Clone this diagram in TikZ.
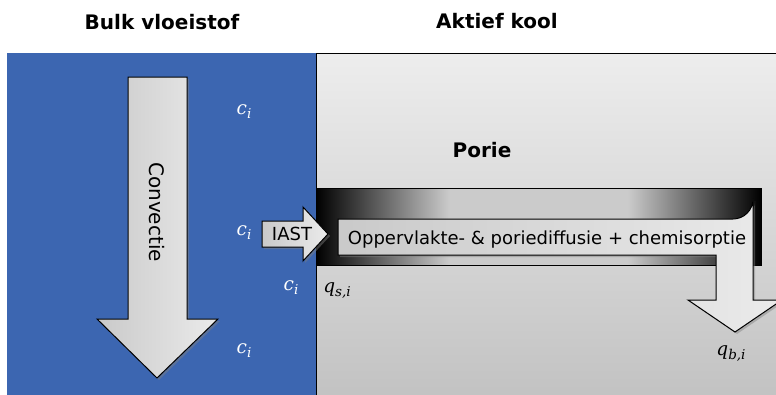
\documentclass[tikz,border=0pt]{standalone}
\usepackage{fontspec}
\setmainfont{DejaVu Sans}
\newfontfamily\varfont{DejaVu Serif}
\usetikzlibrary{shadows}
\definecolor{bulkblue}{HTML}{3C66B1}
\definecolor{poregray}{HTML}{CBCBCB}
\pgfdeclarehorizontalshading{poreshade}{100bp}{color(0bp)=(black); color(25bp)=(black); color(40bp)=(poregray); color(60bp)=(poregray); color(75bp)=(black); color(100bp)=(black)}
\newcommand{\symb}[2]{{\varfont\itshape #1\raisebox{-4pt}{\fontsize{13.5}{15}\selectfont #2}}}
\tikzset{
  title/.style={font=\bfseries\fontsize{20}{24}\selectfont, inner sep=0pt},
  lbl/.style={font=\fontsize{18}{22}\selectfont, inner sep=0pt},
  conc/.style={text=white, font=\fontsize{18.5}{22}\selectfont, inner sep=0pt},
  load/.style={text=black, font=\fontsize{18.5}{22}\selectfont, inner sep=0pt},
  arrowshape/.style={draw=black, line width=1pt, line join=miter, left color=gray!42, right color=gray!16,
    drop shadow={opacity=0.45, shadow xshift=2pt, shadow yshift=-2pt}},
}
\begin{document}
\begin{tikzpicture}[x=1pt, y=-1pt]
\useasboundingbox (0,0) rectangle (776,394);
\clip (0,0) rectangle (776,394);
% regions
\fill[bulkblue] (7,53) rectangle (318,400);
\shade[top color=gray!14, bottom color=gray!48] (316,53) rectangle (790,400);
\draw[line width=1pt] (316,400) -- (316,53) -- (790,53);
% pore
\path[shading=poreshade, draw=black, line width=1pt] (316,188) rectangle (761,265);
% titles
\node[title] (bulk) at (162,22) {Bulk vloeistof};
\node[title] (kool) at (497,21) {Aktief kool};
\node[title] (porie) at (482,150) {Porie};
% convection arrow
\path[arrowshape] (128,77) -- (187,77) -- (187,319) -- (218,319) -- (157,378) -- (97,319) -- (128,319) -- cycle;
\node[lbl, font=\fontsize{20}{24}\selectfont, rotate=-90] (conv) at (157,212) {Convectie};
% IAST arrow
\path[arrowshape] (262,221) -- (303,221) -- (303,207) -- (328,234) -- (303,261) -- (303,247) -- (262,247) -- cycle;
\node[lbl] (iast) at (292,234) {IAST};
% pore diffusion arrow
\path[arrowshape] (338,219) -- (733,219) arc[start angle=-90, end angle=0, radius=20pt] -- (753,300) -- (782,300) -- (735,332) -- (688,300) -- (716,300) -- (716,255) -- (338,255) -- cycle;
\node[lbl] (diff) at (547,240) {Oppervlakte- \& poriediffusie + chemisorptie};
% concentrations
\node[conc] (c1) at (244,112) {\symb{c}{i}};
\node[conc] (c2) at (244,233) {\symb{c}{i}};
\node[conc] (c3) at (291,288) {\symb{c}{i}};
\node[conc] (c4) at (244,351) {\symb{c}{i}};
\node[load] (qs) at (337,290) {\symb{q}{s,i}};
\node[load] (qb) at (731,353) {\symb{q}{b,i}};
\end{tikzpicture}
\end{document}
